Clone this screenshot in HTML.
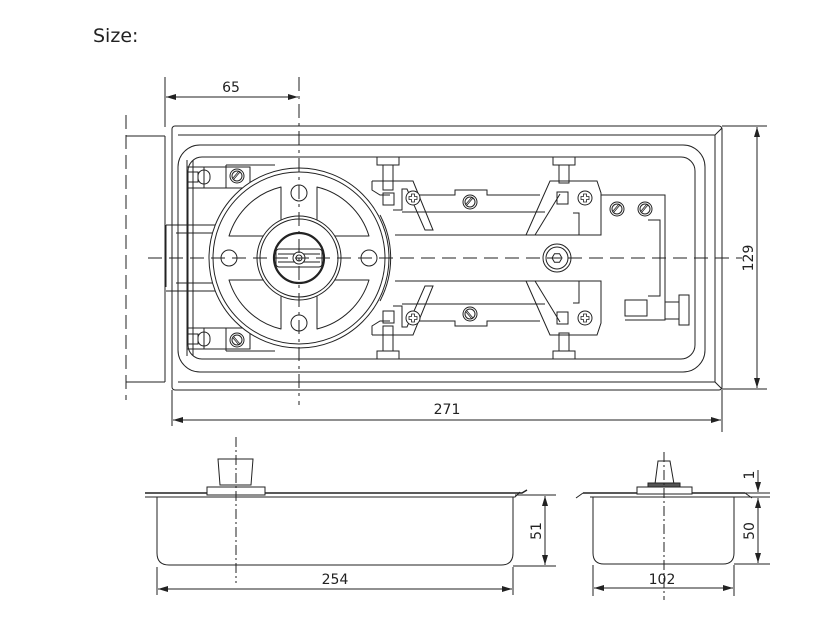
<!DOCTYPE html>
<html><head><meta charset="utf-8"><style>
html,body{margin:0;padding:0;background:#fff;}
svg{display:block;}
text{font-family:"DejaVu Sans","Liberation Sans",sans-serif;fill:#222;}
</style></head><body>
<svg width="839" height="622" viewBox="0 0 839 622" xmlns="http://www.w3.org/2000/svg">
<defs>
<marker id="a" viewBox="0 0 10 6" refX="10" refY="3" markerWidth="10" markerHeight="6" orient="auto-start-reverse" markerUnits="userSpaceOnUse"><path d="M0,0 L10,3 L0,6 Z" fill="#222"/></marker>
<g id="slot"><circle r="7" fill="#fff" stroke="#222"/><circle r="5" fill="none" stroke="#222"/><path d="M-3,3 L3,-4 M-4,2 L2,-5" stroke="#222" stroke-width="0.8"/></g>
<g id="phil"><circle r="7" fill="#fff" stroke="#222"/><path d="M-1.5,-4 h3 v2.5 h2.5 v3 h-2.5 v2.5 h-3 v-2.5 h-2.5 v-3 h2.5 z" fill="none" stroke="#222" stroke-width="0.8"/></g>
<path id="kid" d="M229,236 A72,72 0 0 1 281,187 L281,226 Q281,236 270,236 Z" stroke-linejoin="round"/>
<g id="half">
 <rect x="187" y="167" width="63" height="21" fill="none"/>
 <path d="M187,167 H232 M204,167 V188 M187,188 H204" fill="none"/>
 <rect x="188" y="172" width="10" height="10"/>
 <rect x="198" y="170" width="12" height="14" rx="6"/>
 <path d="M226,165 H275 M226,165 V188 H250"/>
 <use href="#slot" x="237" y="176"/>
 <rect x="377" y="157" width="22" height="8"/>
 <rect x="383" y="165" width="10" height="25"/>
 <path d="M372,181 H413 L433,230 H425 L407,189 H402 V210 H393"/>
 <path d="M372,181 V190 L380,195 H390"/>
 <rect x="383" y="193" width="11" height="12"/>
 <use href="#phil" x="413" y="198"/>
 <path d="M419,195 H455 V190 H487 V195 H540"/>
 <path d="M402,212 H545"/>
 <use href="#slot" x="470" y="202"/>
 <rect x="553" y="157" width="22" height="8"/>
 <rect x="559" y="165" width="10" height="18"/>
 <path d="M526,235 L550,181 H597 L601,193 V235 H579 V213 H573"/>
 <path d="M535,235 L560,194"/>
 <rect x="557" y="192" width="11" height="12"/>
 <use href="#phil" x="585" y="198"/>
 <path d="M395,235 H601"/>
 <path d="M166,225 H245 M176,233 H226"/>
</g>
</defs>

<text x="93" y="42" font-size="19" fill="#222" font-family="Liberation Sans, sans-serif">Size:</text>

<g stroke="#222" stroke-width="1" fill="none">
 <path d="M165,136 H126 M165,382 H126 M165,136 V382"/>
 <path d="M126,115 V400" stroke-dasharray="14,6"/>
 <rect x="172" y="126" width="550" height="264" rx="3"/>
 <path d="M178,135 H715 L722,128 M715,135 V382 L722,389 M178,382 H715"/>
 <rect x="178" y="145" width="527" height="227" rx="22"/>
 <rect x="188" y="157" width="507" height="202" rx="14"/>
 <path d="M187,160 V356 M193,160 V356"/>
 <use href="#half"/>
 <use href="#half" transform="matrix(1 0 0 -1 0 516)"/>
 <path d="M166,225 V287"/>
 <path d="M601,195 H665 V320 H625"/>
 <use href="#slot" x="617" y="209"/>
 <use href="#slot" x="645" y="209"/>
 <path d="M648,220 H660 V296 H648"/>
 <rect x="625" y="300" width="22" height="16"/>
 <rect x="665" y="302" width="14" height="17"/>
 <rect x="679" y="295" width="10" height="30"/>
 <circle cx="557" cy="258" r="14" fill="#fff"/>
 <circle cx="557" cy="258" r="11"/>
 <path d="M552,258 l2.5,-4.3 h5 l2.5,4.3 l-2.5,4.3 h-5 z"/>
 <circle cx="299" cy="258" r="90" fill="#fff"/>
 <circle cx="299" cy="258" r="86"/>
 <path d="M380,215 A92,92 0 0 1 380,301"/>
 <use href="#kid"/>
 <use href="#kid" transform="matrix(-1 0 0 1 598 0)"/>
 <use href="#kid" transform="matrix(1 0 0 -1 0 516)"/>
 <use href="#kid" transform="matrix(-1 0 0 -1 598 516)"/>
 <circle cx="299" cy="193" r="8"/>
 <circle cx="299" cy="323" r="8"/>
 <circle cx="229" cy="258" r="8"/>
 <circle cx="369" cy="258" r="8"/>
 <circle cx="299" cy="258" r="42" fill="#fff"/>
 <circle cx="299" cy="258" r="39"/>
 <circle cx="299" cy="258" r="25" stroke-width="2.2"/>
 <rect x="276" y="249" width="46" height="18" rx="3"/>
 <path d="M278,254 H320 M278,262 H320"/>
 <circle cx="299" cy="258" r="6" fill="#fff"/>
 <circle cx="299" cy="258" r="3"/>
 <path d="M148,258 H742" stroke-dasharray="14,7"/>
 <path d="M299,77 V405" stroke-dasharray="14,5,3,5"/>
 <path d="M165,77 V127"/>
 <path d="M166,97 H298" marker-start="url(#a)" marker-end="url(#a)"/>
 <path d="M172,390 V426 M722,390 V432"/>
 <path d="M173,420 H721" marker-start="url(#a)" marker-end="url(#a)"/>
 <path d="M722,126 H767 M722,389 H767"/>
 <path d="M757,127 V388" marker-start="url(#a)" marker-end="url(#a)"/>

 <path d="M145,493 H522 L527,490" stroke-width="1.5"/>
 <path d="M145,497 H515 L520,492"/>
 <path d="M157,497 V553 Q157,565 169,565 H501 Q513,565 513,553 V497"/>
 <path d="M218,459 H253 L251,485 H220 Z"/>
 <rect x="207" y="487" width="58" height="8" fill="#fff"/>
 <path d="M236,437 V583" stroke-dasharray="10,3,2,3"/>
 <path d="M515,495 H556 M513,566 H556"/>
 <path d="M545,496 V565" marker-start="url(#a)" marker-end="url(#a)"/>
 <path d="M157,567 V595 M513,567 V595"/>
 <path d="M158,589 H512" marker-start="url(#a)" marker-end="url(#a)"/>

 <path d="M583,493 H745" stroke-width="1.5"/>
 <path d="M590,497 H740 M583,493 L576,498 M745,493 L752,498"/>
 <path d="M593,497 V553 Q593,564 604,564 H723 Q734,564 734,553 V497"/>
 <path d="M658,461 H670 L674,484 H655 Z"/>
 <rect x="648" y="483" width="32" height="5" fill="#555"/>
 <rect x="637" y="487" width="55" height="7" fill="#fff"/>
 <path d="M664,452 V600" stroke-dasharray="10,3,2,3"/>
 <path d="M745,493 H770 M740,497 H770 M734,564 H770"/>
 <path d="M758,470 V492" marker-end="url(#a)"/>
 <path d="M758,498 V563" marker-start="url(#a)" marker-end="url(#a)"/>
 <path d="M593,565 V596 M734,565 V596"/>
 <path d="M594,588 H733" marker-start="url(#a)" marker-end="url(#a)"/>
</g>

<text x="231" y="92" font-size="14" text-anchor="middle">65</text>
<text x="447" y="414" font-size="14" text-anchor="middle">271</text>
<text transform="translate(753,258) rotate(-90)" font-size="14" text-anchor="middle">129</text>
<text x="335" y="584" font-size="14" text-anchor="middle">254</text>
<text transform="translate(541,531) rotate(-90)" font-size="14" text-anchor="middle">51</text>
<text x="662" y="584" font-size="14" text-anchor="middle">102</text>
<text transform="translate(754,531) rotate(-90)" font-size="14" text-anchor="middle">50</text>
<text transform="translate(754,475) rotate(-90)" font-size="14" text-anchor="middle">1</text>
</svg>
</body></html>
